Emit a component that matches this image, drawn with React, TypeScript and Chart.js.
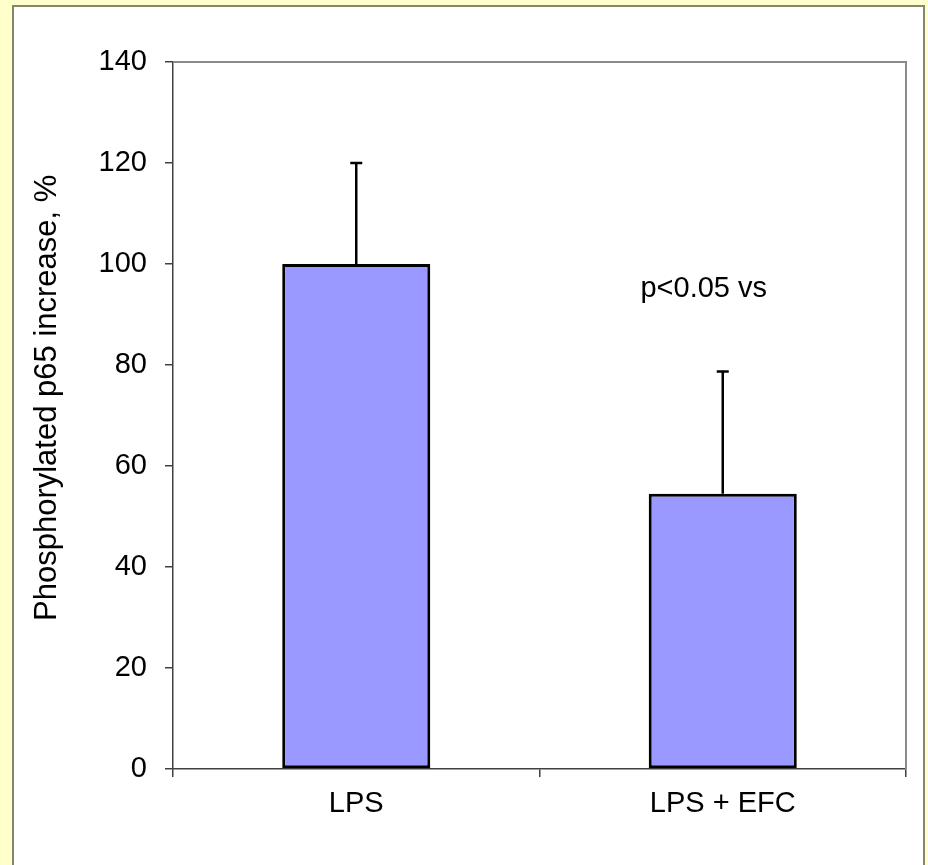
import React, { useEffect, useRef } from "react";
import { Chart, registerables } from "chart.js";

Chart.register(...registerables);

const categories = ["LPS", "LPS + EFC"];
const meanValues = [100, 54.5];
const errorUpper = [120, 78.7];
const yTicks = [0, 20, 40, 60, 80, 100, 120, 140];
const annotationText = "p<0.05 vs";
const annotationValue = 95;
const yTitle = "Phosphorylated p65 increase, %";

const FONT = "'Liberation Sans', Arial, sans-serif";

const framePlugin = {
  id: "frame",
  beforeDraw(chart: any) {
    const { ctx, width, height } = chart;
    ctx.save();
    ctx.fillStyle = "#FFFFCC";
    ctx.fillRect(0, 0, width, height);
    ctx.fillStyle = "#FFFFFF";
    ctx.fillRect(12, 5, 912, height);
    ctx.strokeStyle = "#86866c";
    ctx.lineWidth = 2;
    ctx.beginPath();
    ctx.moveTo(13, height);
    ctx.lineTo(13, 6);
    ctx.lineTo(924, 6);
    ctx.lineTo(924, height);
    ctx.stroke();
    ctx.restore();
  },
  afterDatasetsDraw(chart: any) {
    const { ctx, chartArea } = chart;
    const xs = chart.scales.x;
    const ys = chart.scales.y;
    ctx.save();
    // plot area top/right border
    ctx.strokeStyle = "#8a8a8a";
    ctx.lineWidth = 2;
    ctx.beginPath();
    ctx.moveTo(chartArea.left, chartArea.top);
    ctx.lineTo(chartArea.right, chartArea.top);
    ctx.lineTo(chartArea.right, chartArea.bottom);
    ctx.stroke();
    // error bars
    ctx.strokeStyle = "#000000";
    ctx.lineWidth = 2.5;
    meanValues.forEach((v, i) => {
      const x = xs.getPixelForValue(i);
      const y0 = ys.getPixelForValue(v);
      const y1 = ys.getPixelForValue(errorUpper[i]);
      ctx.beginPath();
      ctx.moveTo(x, y0);
      ctx.lineTo(x, y1);
      ctx.moveTo(x - 6, y1);
      ctx.lineTo(x + 6, y1);
      ctx.stroke();
    });
    // annotation
    ctx.fillStyle = "#000000";
    ctx.font = `29px ${FONT}`;
    ctx.textAlign = "center";
    ctx.textBaseline = "middle";
    ctx.fillText(annotationText, xs.getPixelForValue(1) - 19, ys.getPixelForValue(annotationValue));
    // y axis title
    ctx.translate(47, ys.getPixelForValue(73.5));
    ctx.rotate(-Math.PI / 2);
    ctx.font = `31px ${FONT}`;
    ctx.fillText(yTitle, 0, 0);
    ctx.restore();
  },
};

export default function App() {
  const ref = useRef<HTMLCanvasElement>(null);
  useEffect(() => {
    document.body.style.margin = "0";
    const chart = new Chart(ref.current!, {
      type: "bar",
      data: {
        labels: categories,
        datasets: [
          {
            data: meanValues,
            backgroundColor: "#9999FF",
            borderColor: "#000000",
            borderWidth: 3,
            borderSkipped: false,
            categoryPercentage: 1,
            barPercentage: 0.404,
          },
        ],
      },
      options: {
        responsive: false,
        animation: false,
        layout: { padding: { top: 62, right: 22, left: 0, bottom: 0 } },
        plugins: { legend: { display: false }, tooltip: { enabled: false } },
        scales: {
          x: {
            grid: { display: true, drawOnChartArea: false, drawTicks: true, tickLength: 8, offset: true, color: "#404040", lineWidth: 1.5 },
            border: { display: true, color: "#404040", width: 1.5 },
            ticks: { color: "#000", font: { family: FONT, size: 29 }, padding: 10 },
            afterFit: (s: any) => { s.height = 96; },
          },
          y: {
            min: 0,
            max: 140,
            afterBuildTicks: (s: any) => { s.ticks = yTicks.map((v) => ({ value: v })); },
            grid: { display: true, drawOnChartArea: false, drawTicks: true, tickLength: 8, color: "#404040", lineWidth: 1.5 },
            border: { display: true, color: "#404040", width: 1.5 },
            ticks: { color: "#000", font: { family: FONT, size: 29 }, padding: 18 },
            title: { display: false, text: yTitle },
            afterFit: (s: any) => { s.width = 173; },
          },
        },
      },
      plugins: [framePlugin],
    });
    return () => chart.destroy();
  }, []);
  return <canvas ref={ref} width={928} height={865} style={{ display: "block" }} />;
}
